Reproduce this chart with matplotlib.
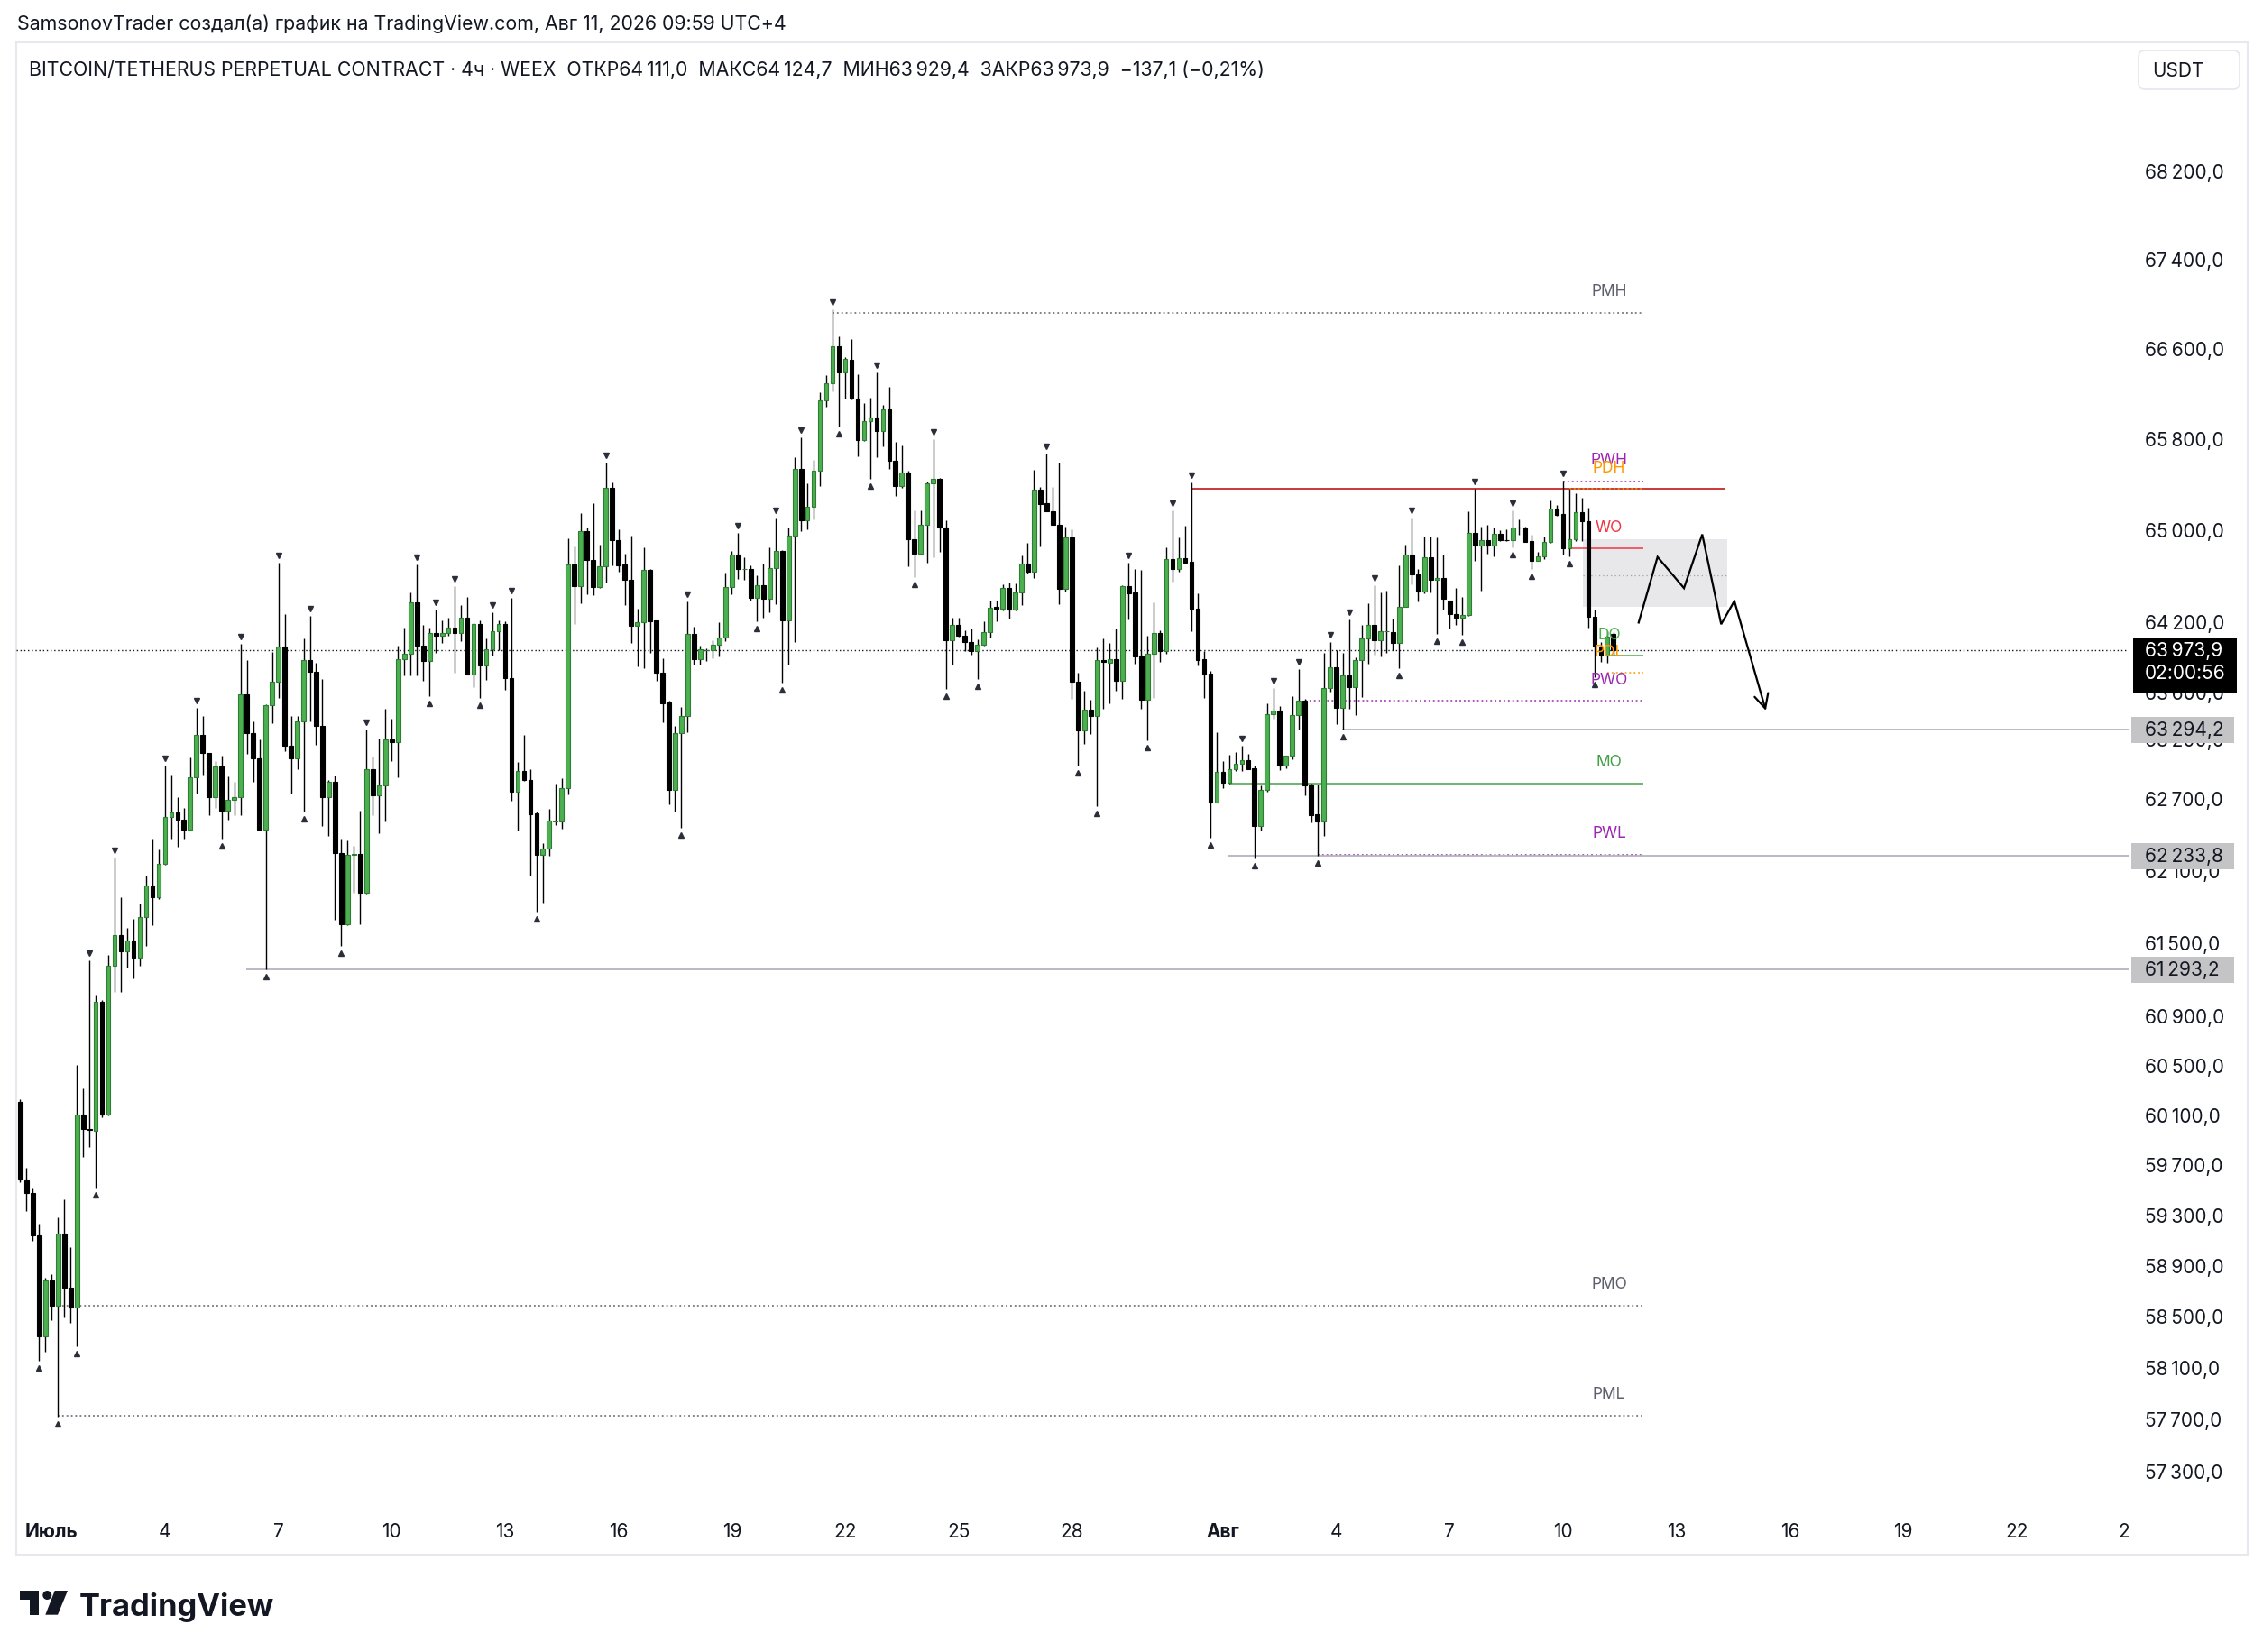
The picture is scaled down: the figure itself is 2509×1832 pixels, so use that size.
import matplotlib
matplotlib.use("Agg")
import matplotlib.pyplot as plt
from matplotlib import transforms
from matplotlib.patches import Rectangle, Circle, Polygon, FancyBboxPatch
from matplotlib.transforms import offset_copy, IdentityTransform
import numpy as np

plt.rcParams["font.family"] = ["Inter", "DejaVu Sans"]

# 4h candles, BTC/USDT perp, first bar 30 Jun, last bar 11 Aug
opens = [
    60216, 59586, 59489, 59152, 58355, 58792, 58597, 59163, 58735, 58583,
    60115, 59998, 59986, 61029, 60115, 61322, 61573, 61444, 61533, 61392,
    61726, 61988, 61890, 62168, 62558, 62596, 62532, 62450, 62891, 63253,
    63097, 62728, 62982, 62611, 62702, 62728, 63594, 63265, 63052, 62450,
    63502, 63701, 64002, 63154, 63052, 63363, 63886, 63786, 63325, 62728,
    62853, 62258, 61663, 62244, 62250, 61929, 62961, 62743, 62821, 63208,
    63185, 63898, 63939, 64380, 64007, 63881, 64117, 64096, 64117, 64164,
    64120, 64251, 63765, 64192, 63839, 63978, 64132, 64192, 63736, 62769,
    62944, 62865, 62589, 62244, 62296, 62523, 62517, 62799, 64713, 64523,
    64998, 64746, 64514, 64693, 65378, 64922, 64713, 64573, 64179, 64209,
    64663, 64225, 63781, 63526, 62782, 63263, 63413, 64108, 63894, 63970,
    63970, 64016, 64077, 64515, 64798, 64670, 64674, 64422, 64529, 64415,
    64677, 64829, 64230, 64962, 65545, 65096, 65211, 65530, 66146, 66301,
    66627, 66395, 66509, 66162, 65796, 65963, 65995, 65875, 66067, 65611,
    65390, 65508, 64925, 64801, 65056, 65414, 65455, 65031, 64053, 64190,
    64099, 64038, 63961, 64016, 64129, 64344, 64328, 64505, 64323, 64466,
    64718, 64648, 65363, 65242, 65176, 65058, 64500, 64942, 63705, 63290,
    63461, 63410, 63884, 63866, 63892, 63710, 64523, 64466, 63923, 63551,
    63943, 64115, 63961, 64757, 64674, 64765, 64734, 64328, 63892, 63771,
    62682, 62935, 62844, 62958, 63004, 63037, 62966, 62486, 62788, 63423,
    63453, 62991, 63072, 63418, 63538, 62831, 62579, 62524, 63646, 63825,
    63482, 63756, 63653, 63884, 64069, 64188, 64059, 64133, 64126, 64031,
    64344, 64796, 64622, 64479, 64773, 64575, 64591, 64396, 64284, 64250,
    64271, 64981, 64874, 64921, 64874, 64979, 64921, 64918, 65034, 65031,
    64913, 64744, 64778, 64903, 65197, 65145, 64848, 64929, 65163, 65084,
    64258, 64000, 63923, 64111.0,
]
highs = [
    60241, 59689, 59529, 59245, 58813, 58842, 59291, 59436, 59059, 60515,
    60325, 61365, 61090, 61040, 61414, 62220, 61890, 61637, 61711, 61838,
    62070, 62378, 62288, 62990, 62914, 62728, 62634, 63056, 63479, 63410,
    63100, 63029, 63075, 62899, 62853, 64025, 63886, 63363, 63211, 63510,
    63956, 64722, 64281, 63410, 63410, 64072, 64266, 63863, 63724, 62868,
    62908, 62379, 62359, 62316, 62609, 63295, 63069, 63220, 63471, 63389,
    64007, 64161, 64469, 64708, 64185, 64161, 64320, 64230, 64251, 64520,
    64359, 64430, 64200, 64230, 64072, 64299, 64230, 64221, 64424, 63020,
    63249, 62958, 62603, 62336, 62627, 62836, 62885, 64937, 64863, 65157,
    65028, 65242, 64881, 65602, 65421, 65013, 64806, 64962, 64326, 64857,
    64669, 64230, 63900, 63540, 63323, 63489, 64390, 64175, 64007, 63986,
    64053, 64215, 64638, 64829, 64984, 64776, 64705, 64613, 64715, 64859,
    65118, 64835, 65034, 65648, 65821, 65420, 65623, 66216, 66373, 66956,
    66716, 66531, 66691, 66380, 66127, 66168, 66395, 66105, 66269, 65783,
    65748, 65524, 65180, 65180, 65430, 65806, 65461, 65096, 64252, 64252,
    64138, 64160, 64068, 64221, 64396, 64396, 64536, 64557, 64544, 64786,
    64900, 65539, 65389, 65680, 65389, 65600, 65039, 65013, 63776, 63628,
    63551, 63992, 64069, 64033, 64154, 64531, 64726, 64669, 64661, 64095,
    64380, 64141, 64856, 65184, 64942, 65047, 65421, 64458, 63966, 63792,
    63270, 63029, 63080, 63105, 63156, 63092, 62991, 62826, 63518, 63648,
    63494, 63075, 63576, 63807, 63556, 62839, 62834, 63948, 64038, 63974,
    63948, 64232, 63910, 64185, 64375, 64531, 64466, 64484, 64240, 64700,
    64882, 65118, 64674, 64955, 64955, 64942, 64796, 64400, 64510, 64427,
    65171, 65373, 65039, 65058, 65031, 65005, 65013, 65184, 65100, 65039,
    64968, 64817, 64953, 65268, 65229, 65440, 65368, 65329, 65294, 65202,
    64323, 64038, 64133, 64124.7,
]
lows = [
    59572, 59339, 59106, 58165, 58231, 58482, 57730, 58505, 58460, 58277,
    59774, 59854, 59529, 60093, 60110, 61113, 61113, 61307, 61221, 61322,
    61488, 61655, 61875, 62156, 62378, 62310, 62378, 62445, 62755, 62914,
    62573, 62630, 62378, 62536, 62573, 62573, 63090, 62853, 62445, 61293,
    63352, 63563, 63113, 62758, 62956, 62603, 63363, 63166, 62483, 62400,
    61700, 61487, 61660, 61929, 61663, 61920, 62575, 62425, 62523, 63025,
    62888, 63757, 63757, 63757, 63713, 63580, 63949, 64037, 64096, 63778,
    64052, 63760, 63654, 63565, 63718, 63925, 63972, 63630, 62697, 62445,
    62860, 62072, 61771, 61842, 62235, 62488, 62459, 62749, 64192, 64374,
    64454, 64445, 64510, 64553, 64699, 64648, 64356, 64031, 63831, 63816,
    63949, 63707, 63354, 62667, 62607, 62468, 63269, 63848, 63848, 63875,
    63900, 63915, 64047, 64453, 64582, 64576, 64396, 64221, 64252, 64298,
    64366, 63693, 63848, 64038, 65002, 65015, 65102, 65390, 66089, 66225,
    65916, 66162, 66152, 65658, 65790, 65455, 65648, 65743, 65545, 65305,
    65377, 64693, 64600, 64798, 64724, 64776, 64816, 63641, 63845, 64089,
    63967, 63930, 63724, 64007, 64083, 64219, 64310, 64245, 64310, 64362,
    64630, 64596, 64864, 65170, 65053, 64370, 64474, 63556, 62991, 63173,
    63257, 62649, 63469, 63520, 63623, 63556, 64232, 63853, 63474, 63206,
    63564, 63871, 63943, 64565, 64648, 64720, 64133, 63838, 63564, 62386,
    62678, 62801, 62840, 62948, 62945, 62958, 62211, 62448, 62768, 63384,
    62953, 62971, 63042, 63295, 62738, 62511, 62234, 62399, 63620, 63341,
    63294, 63469, 63418, 63571, 63853, 63936, 63915, 63948, 63974, 63820,
    64340, 64536, 64388, 64458, 64466, 64110, 64318, 64154, 64185, 64102,
    64263, 64744, 64484, 64804, 64778, 64916, 64913, 64856, 64968, 64905,
    64674, 64739, 64760, 64900, 65132, 64796, 64778, 64913, 64916, 64167,
    63743, 63871, 63864, 63929.4,
]
closes = [
    59595, 59489, 59152, 58355, 58792, 58597, 59163, 58735, 58583, 60115,
    59998, 59990, 61029, 60115, 61322, 61573, 61444, 61533, 61392, 61726,
    61988, 61890, 62168, 62558, 62596, 62532, 62450, 62891, 63253, 63097,
    62728, 62982, 62611, 62702, 62728, 63594, 63265, 63052, 62450, 63502,
    63701, 64002, 63154, 63052, 63363, 63886, 63786, 63325, 62728, 62853,
    62258, 61663, 62244, 62250, 61929, 62961, 62743, 62821, 63208, 63185,
    63898, 63939, 64380, 64007, 63881, 64117, 64096, 64117, 64164, 64120,
    64251, 63765, 64192, 63839, 63978, 64132, 64192, 63736, 62769, 62944,
    62865, 62584, 62244, 62296, 62526, 62526, 62799, 64713, 64523, 64998,
    64746, 64514, 64693, 65378, 64922, 64702, 64573, 64179, 64209, 64663,
    64221, 63781, 63515, 62782, 63263, 63413, 64108, 63894, 63977, 63972,
    64016, 64077, 64515, 64798, 64668, 64674, 64422, 64529, 64415, 64677,
    64829, 64230, 64962, 65545, 65096, 65211, 65530, 66146, 66301, 66627,
    66395, 66515, 66162, 65796, 65963, 65995, 65875, 66067, 65611, 65390,
    65508, 64925, 64801, 65056, 65414, 65455, 65031, 64053, 64190, 64099,
    64038, 63961, 64016, 64129, 64338, 64328, 64505, 64323, 64466, 64718,
    64648, 65363, 65237, 65176, 65058, 64500, 64942, 63705, 63290, 63461,
    63410, 63884, 63869, 63892, 63710, 64523, 64461, 63918, 63551, 63943,
    64115, 63961, 64757, 64674, 64765, 64726, 64323, 63889, 63766, 62682,
    62935, 62844, 62958, 63004, 63037, 62961, 62486, 62788, 63423, 63453,
    62991, 63072, 63418, 63538, 62826, 62574, 62524, 63646, 63825, 63482,
    63756, 63653, 63884, 64069, 64188, 64059, 64133, 64135, 64031, 64344,
    64796, 64622, 64479, 64773, 64575, 64591, 64414, 64284, 64250, 64271,
    64981, 64874, 64921, 64874, 64979, 64921, 64918, 65034, 65031, 64908,
    64744, 64778, 64903, 65197, 65137, 64848, 64929, 65163, 65084, 64258,
    64000, 63923, 64090, 63973.9,
]

# swing markers (bar indices)
pivot_highs = [11, 15, 23, 28, 35, 41, 46, 55, 63, 66, 69, 75, 78, 93, 106, 114, 120,
               124, 129, 136, 145, 163, 176, 183, 186, 194, 199, 203, 208, 211, 215,
               221, 231, 237, 245]
pivot_lows = [3, 6, 9, 12, 32, 39, 45, 51, 65, 73, 82, 105, 117, 121, 130, 135, 142,
              147, 152, 168, 171, 179, 189, 196, 206, 210, 219, 225, 229, 237, 240,
              246, 250]

# key levels drawn by the indicator
level_names = ["PMH", "PWH", "PDH", "WO", "DO", "PDL", "PWO", "MO", "PWL", "PMO", "PML"]
level_prices = [66928, 65434, 65368, 64850, 63925, 63778, 63540, 62840, 62244, 58597, 57740]
level_start = [129, 245, 246, 246, 252, 252, 204, 192, 206, 6, 6]
level_colors = ["#5d606b", "#9c27b0", "#ff9800", "#f23645", "#4caf50", "#ff9800",
                "#9c27b0", "#43a047", "#9c27b0", "#5d606b", "#5d606b"]
level_dotted = [True, True, True, False, False, True, True, False, True, True, True]
level_end = 257.7
label_x = 252.3

# horizontal rays with price labels
ray_prices = [61293.2, 63294.2, 62233.8]
ray_start = [35.9, 209.9, 191.7]

red_line_price = 65368
red_line_span = (186, 270.6)
zone_span = (248.2, 271.1)
zone_prices = (64340, 64930)
zone_mid = 64615

# hand-drawn projection path
path_x = [257.0, 260.0, 264.2, 267.1, 270.1, 272.2, 277.2]
path_y = [64208, 64775, 64505, 64971, 64194, 64394, 63456]

last_price = 63973.9
countdown = "02:00:56"

price_ticks = [68200, 67400, 66600, 65800, 65000, 64200, 63600, 63200, 62700, 62100,
               61500, 60900, 60500, 60100, 59700, 59300, 58900, 58500, 58100, 57700, 57300]
day_labels = ["Июль", "4", "7", "10", "13", "16", "19", "22", "25", "28",
              "Авг", "4", "7", "10", "13", "16", "19", "22", "25"]
day_offsets = [1, 4, 7, 10, 13, 16, 19, 22, 25, 28, 32, 35, 38, 41, 44, 47, 50, 53, 56]
month_labels = {"Июль", "Авг"}

TEXT = "#131722"
W_PX, H_PX = 2509, 1833


def px_rect(x0, y0, x1, y1):
    return [x0 / W_PX, 1 - y1 / H_PX, (x1 - x0) / W_PX, (y1 - y0) / H_PX]


def fmt_price(v):
    s = f"{v:,.1f}"
    return s.replace(",", "\u2009").replace(".", ",")


fig = plt.figure(figsize=(W_PX / 100, H_PX / 100), dpi=100)
fig.patch.set_facecolor("white")

ax = fig.add_axes(px_rect(18, 49, 2360, 1669))
ax.set_yscale("log")
ax.axis("off")

x = np.arange(len(closes))
o = np.array(opens)
h = np.array(highs)
l = np.array(lows)
c = np.array(closes)
up = c > o
body_lo = np.minimum(o, c)
body_h = np.maximum(np.abs(c - o), 2.0)

ax.vlines(x, l, h, color="black", lw=1.0, zorder=3)
ax.bar(x[up], body_h[up], bottom=body_lo[up], width=0.68, color="#4caf50",
       edgecolor="#2e7d32", linewidth=0.8, zorder=4)
ax.bar(x[~up], body_h[~up], bottom=body_lo[~up], width=0.68, color="black",
       edgecolor="black", linewidth=0.8, zorder=4)

up_off = offset_copy(ax.transData, fig=fig, x=0, y=8, units="dots")
dn_off = offset_copy(ax.transData, fig=fig, x=0, y=-8, units="dots")
ax.plot(x[pivot_highs], h[pivot_highs], "v", ms=4.5, color="#2a2e39", transform=up_off, zorder=5)
ax.plot(x[pivot_lows], l[pivot_lows], "^", ms=4.5, color="#2a2e39", transform=dn_off, zorder=5)

# zone
zlo, zhi = zone_prices
ax.add_patch(Rectangle((zone_span[0], zlo), zone_span[1] - zone_span[0], zhi - zlo,
                       facecolor="#e8e8ea", edgecolor="none", zorder=1))
ax.hlines(zone_mid, zone_span[0], zone_span[1], colors="#a0a3ab", linestyles=(0, (1, 2.5)),
          lw=0.9, zorder=1.5)

ax.hlines(red_line_price, red_line_span[0], red_line_span[1], colors="#c62828", lw=1.3, zorder=2)

lab_off = offset_copy(ax.transData, fig=fig, x=0, y=24, units="dots")
for name, price, start, col, dotted in zip(level_names, level_prices, level_start,
                                           level_colors, level_dotted):
    ls = (0, (1.2, 2)) if dotted else "-"
    ax.hlines(price, start, level_end, colors=col, linestyles=ls, lw=1.1, zorder=2)
    ax.text(label_x, price, name, color=col, fontsize=12.5, ha="center", va="center",
            transform=lab_off, zorder=6)

for price, start in zip(ray_prices, ray_start):
    ax.hlines(price, start, 400, colors="#b2b5be", lw=1.3, zorder=2)

ax.axhline(last_price, color=TEXT, ls=(0, (1, 2)), lw=1.0, zorder=2.5)

# projection drawing
ax.plot(path_x[:-1], path_y[:-1], color="black", lw=1.6, zorder=7, solid_joinstyle="miter")
ax.annotate("", xy=(path_x[-1], path_y[-1]), xytext=(path_x[-2], path_y[-2]),
            arrowprops=dict(arrowstyle="->", color="black", lw=1.6,
                            mutation_scale=28, shrinkA=0, shrinkB=0), zorder=7)

ax.set_xlim(-0.62, 334.8)
ax.set_ylim(57058, 69388)

# price scale
ax_p = fig.add_axes(px_rect(2360, 49, 2492, 1669), sharey=ax)
ax_p.axis("off")
ptrans = transforms.blended_transform_factory(ax_p.transAxes, ax_p.transData)
for v in price_ticks:
    ax_p.text(0.136, v, fmt_price(v), transform=ptrans, fontsize=15, color=TEXT,
              ha="left", va="center", zorder=2)


def y_disp(price):
    return ax.transData.transform((0, price))[1]


def add_px_rect(x0, y0, w, hgt, color):
    fig.add_artist(Rectangle((x0, y0), w, hgt, transform=IdentityTransform(),
                             facecolor=color, edgecolor="none", zorder=10))


for price in ray_prices:
    yc = y_disp(price)
    add_px_rect(2363, yc - 14.5, 114, 29, "#c4c4c6")
    fig.text(2378 / W_PX, yc / H_PX, fmt_price(price), fontsize=15, color=TEXT,
             ha="left", va="center", zorder=11)

yc = y_disp(last_price)
add_px_rect(2365, yc - 47, 115, 60, "black")
fig.text(2378 / W_PX, yc / H_PX, fmt_price(last_price), fontsize=15, color="white",
         ha="left", va="center", zorder=11)
fig.text(2378 / W_PX, (yc - 25) / H_PX, countdown, fontsize=15, color="white",
         ha="left", va="center", zorder=11)

# time scale
ax_t = fig.add_axes(px_rect(18, 1669, 2360, 1725), sharex=ax)
ax_t.axis("off")
ttrans = transforms.blended_transform_factory(ax_t.transData, ax_t.transAxes)
for lab, off in zip(day_labels, day_offsets):
    pos = 6 * off - 1
    ax_t.text(pos, 0.46, lab, transform=ttrans, fontsize=15, color=TEXT, ha="center",
              va="center", fontweight="bold" if lab in month_labels else "normal",
              clip_on=True)

# widget frame and currency button
fig.add_artist(Rectangle((18, H_PX - 1725), 2474, 1677, transform=IdentityTransform(),
                         fill=False, edgecolor="#e6e8ee", lw=1.5, zorder=0))
fig.add_artist(FancyBboxPatch((2371, H_PX - 100), 112, 43, boxstyle="round,pad=0,rounding_size=7",
                              transform=IdentityTransform(), facecolor="white",
                              edgecolor="#e6e8ee", lw=1.3, zorder=10))
fig.text(2386 / W_PX, 1 - 79 / H_PX, "USDT", fontsize=15, color=TEXT, ha="left",
         va="center", zorder=11)

renderer = fig.canvas.get_renderer()


def fit_width(t, target):
    w = t.get_window_extent(renderer).width
    t.set_fontsize(t.get_fontsize() * target / w)


t1 = fig.text(19 / W_PX, 1 - 27 / H_PX,
              "SamsonovTrader создал(а) график на TradingView.com, Авг 11, 2026 09:59 UTC+4",
              fontsize=15, color=TEXT, ha="left", va="center")
fit_width(t1, 856)
t2 = fig.text(32 / W_PX, 1 - 77 / H_PX,
              "BITCOIN/TETHERUS PERPETUAL CONTRACT · 4ч · WEEX  ОТКР64\u2009111,0  "
              "МАКС64\u2009124,7  МИН63\u2009929,4  ЗАКР63\u2009973,9  −137,1 (−0,21%)",
              fontsize=15, color=TEXT, ha="left", va="center")
fit_width(t2, 1376)

# TradingView logo
def fy(y):
    return H_PX - y


logo = "#131722"
fig.add_artist(Rectangle((21.7, fy(1775)), 21.6, 10, transform=IdentityTransform(),
                         facecolor=logo, edgecolor="none"))
fig.add_artist(Rectangle((33.3, fy(1791.7)), 10, 26.7, transform=IdentityTransform(),
                         facecolor=logo, edgecolor="none"))
fig.add_artist(Circle((52.3, fy(1770)), 5, transform=IdentityTransform(),
                      facecolor=logo, edgecolor="none"))
fig.add_artist(Polygon([(60.7, fy(1765)), (75, fy(1765)), (64, fy(1791.7)), (50.3, fy(1791.7))],
                       closed=True, transform=IdentityTransform(), facecolor=logo,
                       edgecolor="none"))
t3 = fig.text(88 / W_PX, fy(1791.7) / H_PX, "TradingView", fontsize=26, fontweight="bold",
              color=logo, ha="left", va="baseline")
fit_width(t3, 217)

fig.savefig("out.png", dpi=100, facecolor="white")
